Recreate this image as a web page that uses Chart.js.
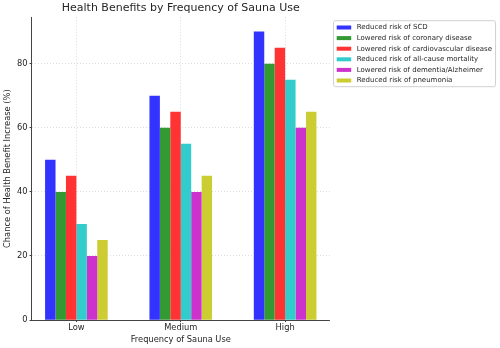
<!DOCTYPE html>
<html>
<head>
<meta charset="utf-8">
<script src="https://cdn.jsdelivr.net/npm/chart.js@4.4.1/dist/chart.umd.min.js"></script>
<style>
html,body{margin:0;padding:0;background:#fff;}
canvas{display:block;}
</style>
</head>
<body>
<canvas id="c" width="500" height="348"></canvas>
<script>
// ---- data ----
const categories = ['Low', 'Medium', 'High'];
const seriesNames = [
  'Reduced risk of SCD',
  'Lowered risk of coronary disease',
  'Lowered risk of cardiovascular disease',
  'Reduced risk of all-cause mortality',
  'Lowered risk of dementia/Alzheimer',
  'Reduced risk of pneumonia'
];
const reducedSCD = [50, 70, 90];
const loweredCoronary = [40, 60, 80];
const loweredCardiovascular = [45, 65, 85];
const reducedAllCause = [30, 55, 75];
const loweredDementia = [20, 40, 60];
const reducedPneumonia = [25, 45, 65];
const yTickValues = [0, 20, 40, 60, 80];

const seriesValues = [reducedSCD, loweredCoronary, loweredCardiovascular, reducedAllCause, loweredDementia, reducedPneumonia];
const seriesColors = ['#3333ff', '#339933', '#ff3333', '#33cccc', '#cc33cc', '#cccc33'];

const FONT = "'DejaVu Sans', sans-serif";
Chart.defaults.font.family = FONT;
Chart.defaults.color = '#262626';

const datasets = seriesNames.map((name, i) => ({
  label: name,
  data: seriesValues[i].map((v, j) => ({x: j, y: v})),
  backgroundColor: seriesColors[i],
  borderWidth: 0
}));

// legend with frame, drawn to the right of the plot area
const legendBox = {
  id: 'legendBox',
  afterDraw(chart) {
    const {ctx, chartArea} = chart;
    const items = chart.data.datasets;
    const left = chartArea.right + 3;
    const top = chartArea.top + 3;
    const rowH = 10.6;
    ctx.save();
    ctx.font = "7px " + FONT;
    let maxW = 0;
    items.forEach(d => { maxW = Math.max(maxW, ctx.measureText(d.label).width); });
    const width = 3.7 + 14.5 + 5.5 + maxW + 3;
    const height = rowH * items.length + 2.4;
    ctx.beginPath();
    ctx.roundRect(left + 0.5, top + 0.5, width, height, 2);
    ctx.fillStyle = 'rgba(255,255,255,0.8)';
    ctx.fill();
    ctx.strokeStyle = '#d0d0d0';
    ctx.lineWidth = 1;
    ctx.stroke();
    items.forEach((d, i) => {
      const cy = top + 7.3 + i * rowH;
      ctx.fillStyle = d.backgroundColor;
      ctx.fillRect(left + 3.7, cy - 2, 14.5, 4);
      ctx.fillStyle = '#262626';
      ctx.textBaseline = 'middle';
      ctx.textAlign = 'left';
      ctx.fillText(d.label, left + 3.7 + 14.5 + 5.5, cy);
    });
    ctx.restore();
  }
};

new Chart(document.getElementById('c'), {
  type: 'bar',
  data: {datasets},
  plugins: [legendBox],
  options: {
    responsive: false,
    animation: false,
    layout: {padding: {left: 2, right: 170, top: 0, bottom: 2}},
    datasets: {bar: {categoryPercentage: 0.6, barPercentage: 1.0}},
    plugins: {legend: {display: false}, tooltip: {enabled: false}, title: {display: false}},
    scales: {
      x: {
        type: 'linear',
        min: -0.43,
        max: 2.43,
        offset: false,
        afterBuildTicks: (scale) => { scale.ticks = categories.map((c, i) => ({value: i})); },
        ticks: {
          autoSkip: false, maxRotation: 0, padding: 1,
          font: {size: 8.3}, color: '#262626',
          callback: (value) => categories[value]
        },
        grid: {display: true, offset: false, color: '#d3d3d3', lineWidth: 0.8,
               tickLength: 2, tickColor: '#444', tickWidth: 1, tickBorderDash: []},
        border: {display: true, color: '#444', width: 1, dash: [1, 2]},
        title: {display: true, text: 'Frequency of Sauna Use', font: {size: 8.3},
                color: '#262626', padding: {top: 1, bottom: 1}}
      },
      xTitle: {
        type: 'linear',
        position: 'top',
        display: true,
        ticks: {display: false},
        grid: {display: false, drawTicks: false},
        border: {display: false},
        title: {display: true, text: 'Health Benefits by Frequency of Sauna Use',
                font: {size: 11}, color: '#262626', padding: {top: 2, bottom: 2}}
      },
      y: {
        min: 0,
        max: 94.5,
        afterBuildTicks: (scale) => { scale.ticks = yTickValues.map(v => ({value: v})); },
        ticks: {padding: 2, font: {size: 8.3}, color: '#262626'},
        grid: {display: true, color: '#d3d3d3', lineWidth: 0.8,
               tickLength: 2, tickColor: '#444', tickWidth: 1, tickBorderDash: []},
        border: {display: true, color: '#444', width: 1, dash: [1, 2]},
        title: {display: true, text: 'Chance of Health Benefit Increase (%)', font: {size: 8.3},
                color: '#262626', padding: {top: 1, bottom: 2}}
      }
    }
  }
});
</script>
</body>
</html>
